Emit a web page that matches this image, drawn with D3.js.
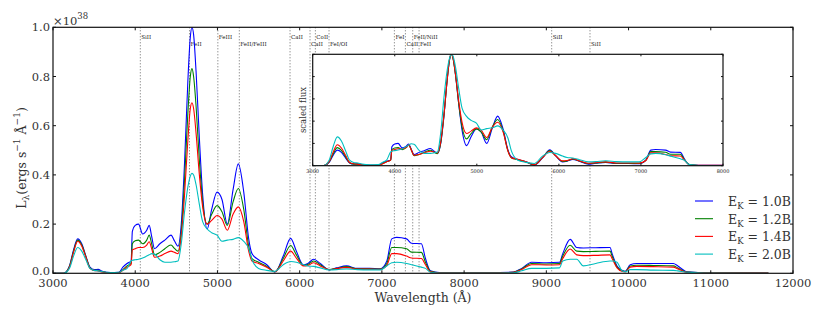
<!DOCTYPE html>
<html lang="en">
<head>
<meta charset="utf-8">
<title>Spectra</title>
<style>
  body { margin: 0; background: #fff; }
  svg text { font-family: "DejaVu Serif", serif; }
  .spine { fill: none; stroke: #111; stroke-width: 1.2px; }
  .tick line { stroke: #111; stroke-width: 1px; }
  .tick-label { font-size: 11.5px; fill: #333; }
  .axis-label { font-size: 12.5px; fill: #333; }
  .ion-line { stroke: #444; stroke-width: 0.8px; stroke-dasharray: 1,2; }
  .ion-label { font-size: 5.5px; fill: #222; }
  .inset-label { font-size: 5px; fill: #222; text-anchor: middle; }
  .spec { fill: none; stroke-width: 1.1px; }
</style>
</head>
<body>
<script src="https://d3js.org/d3.v7.min.js" charset="utf-8"></script>
<script>
// wavelength grid (Angstrom)
var wave = [3000,3130,3200,3250,3300,3350,3400,3450,3500,3550,3600,3700,3800,3850,3900,3950,3965,4000,4040,4090,
  4140,4170,4200,4235,4300,4360,4435,4480,4520,4560,4600,4640,4670,4690,4710,4740,4780,4820,4875,4930,
  4995,5055,5120,5190,5254,5320,5380,5420,5500,5600,5700,5800,5890,5960,6045,6100,6170,6250,6360,6450,
  6570,6700,6850,6980,7060,7120,7180,7300,7360,7480,7530,7590,7700,8000,8300,8600,8700,8820,9000,9160,
  9200,9290,9370,9450,9600,9775,9800,9860,9920,9960,10020,10100,10300,10545,10600,10710,11000,11700]

// luminosity in units of 1e38 erg/s/A
var ek10 = [0,0,0.03,0.095,0.14,0.12,0.07,0.025,0.015,0.016,0.008,0.003,0.004,0.025,0.04,0.05,0.17,0.195,0.2,0.16,
  0.175,0.195,0.15,0.1,0.12,0.135,0.155,0.13,0.11,0.2,0.45,0.78,0.96,1.0,0.97,0.82,0.55,0.32,0.18,0.26,
  0.33,0.3,0.2,0.34,0.445,0.33,0.14,0.08,0.055,0.035,0.005,0.07,0.142,0.09,0.034,0.04,0.057,0.04,0.014,0.022,
  0.03,0.02,0.02,0.018,0.05,0.14,0.146,0.14,0.122,0.12,0.06,0.01,0.003,0.003,0.003,0.005,0.02,0.045,0.043,0.045,
  0.08,0.138,0.105,0.103,0.104,0.105,0.08,0.03,0.012,0.008,0.035,0.04,0.04,0.04,0.03,0.006,0.002,0.001]
var ek12 = [0,0,0.028,0.09,0.135,0.115,0.068,0.022,0.012,0.012,0.006,0.002,0.003,0.015,0.03,0.04,0.12,0.132,0.135,0.12,
  0.135,0.155,0.12,0.075,0.085,0.1,0.115,0.1,0.09,0.17,0.38,0.65,0.8,0.832,0.8,0.68,0.46,0.29,0.2,0.24,
  0.275,0.25,0.195,0.29,0.345,0.26,0.11,0.06,0.045,0.028,0.006,0.06,0.113,0.075,0.032,0.036,0.05,0.035,0.015,0.02,
  0.027,0.018,0.018,0.017,0.04,0.105,0.105,0.1,0.086,0.085,0.045,0.008,0.002,0.002,0.002,0.004,0.018,0.04,0.038,0.04,
  0.07,0.114,0.09,0.088,0.089,0.09,0.07,0.025,0.01,0.007,0.03,0.033,0.032,0.03,0.022,0.005,0.002,0.001]
var ek14 = [0,0,0.025,0.085,0.13,0.11,0.065,0.02,0.012,0.01,0.005,0.002,0.003,0.012,0.025,0.035,0.095,0.1,0.105,0.105,
  0.115,0.128,0.1,0.065,0.07,0.08,0.09,0.085,0.08,0.15,0.32,0.54,0.67,0.693,0.67,0.57,0.4,0.27,0.2,0.215,
  0.235,0.22,0.175,0.24,0.27,0.21,0.09,0.05,0.04,0.025,0.006,0.05,0.09,0.062,0.03,0.032,0.043,0.03,0.015,0.019,
  0.024,0.017,0.017,0.016,0.032,0.08,0.08,0.07,0.062,0.06,0.035,0.006,0.002,0.002,0.002,0.004,0.015,0.035,0.034,0.035,
  0.06,0.099,0.075,0.072,0.073,0.075,0.06,0.022,0.008,0.006,0.025,0.028,0.027,0.025,0.018,0.004,0.002,0.001]
var ek20 = [0,0,0.02,0.07,0.105,0.09,0.055,0.02,0.012,0.01,0.006,0.003,0.004,0.012,0.02,0.05,0.053,0.055,0.057,0.062,
  0.07,0.075,0.08,0.078,0.055,0.045,0.045,0.047,0.05,0.12,0.25,0.35,0.395,0.406,0.4,0.36,0.28,0.21,0.18,0.165,
  0.155,0.13,0.135,0.138,0.145,0.13,0.1,0.055,0.02,0.012,0.008,0.035,0.048,0.045,0.035,0.03,0.028,0.022,0.014,0.015,
  0.018,0.015,0.014,0.014,0.03,0.043,0.045,0.04,0.035,0.025,0.02,0.004,0.001,0.001,0.001,0.002,0.01,0.02,0.02,0.022,
  0.05,0.057,0.057,0.03,0.04,0.05,0.05,0.045,0.01,0.006,0.015,0.015,0.013,0.012,0.01,0.004,0.001,0]

var seriesNames = ['1.0B', '1.2B', '1.4B', '2.0B']
var seriesColors = ['#0000ff', '#008000', '#ff0000', '#00bfbf']
var seriesValues = [ek10, ek12, ek14, ek20]

// line identifications: wavelength, ion, row
var ionWave = [4062, 4660, 5005, 5266, 5883, 6126, 6191, 6357, 7152, 7286, 7375, 7452, 9065, 9531]
var ionName = ['SiII','FeII','FeIII','FeII/FeIII','CaII','CaII','CoII','FeI/OI','FeI','CaII','FeII/NiII','FeII','SiII','SiII']
var ionRow  = [1,2,1,2,1,2,1,2,1,2,1,2,1,2]

var xTicks = [3000,4000,5000,6000,7000,8000,9000,10000,11000,12000]
var yTicks = [0, 0.2, 0.4, 0.6, 0.8, 1.0]
var insetXTicks = [3000,4000,5000,6000,7000,8000]
var insetYTicks = [0, 0.2, 0.4, 0.6, 0.8, 1.0]

var svg = d3.select('body').append('svg')
    .attr('width', 822)
    .attr('height', 320)

var x = d3.scaleLinear().domain([3000, 12000]).range([53, 793])
var y = d3.scaleLinear().domain([0, 1]).range([273.3, 27.3])

svg.append('clipPath').attr('id', 'mainclip')
  .append('rect').attr('x', 53).attr('y', 27.3).attr('width', 740).attr('height', 246)

// ion marker lines
svg.append('g').selectAll('line')
    .data(ionWave)
  .enter().append('line')
    .attr('class', 'ion-line')
    .attr('x1', function(d) { return x(d) }).attr('x2', function(d) { return x(d) })
    .attr('y1', y(1)).attr('y2', y(0))

svg.append('g').selectAll('text')
    .data(ionWave)
  .enter().append('text')
    .attr('class', 'ion-label')
    .attr('x', function(d) { return x(d) + 1 })
    .attr('y', function(d, i) { return ionRow[i] === 1 ? 39 : 46 })
    .text(function(d, i) { return ionName[i] })

// spectra
var line = d3.line()
    .x(function(d) { return x(d[0]) })
    .y(function(d) { return y(d[1]) })
    .curve(d3.curveMonotoneX)

var specGroup = svg.append('g').attr('clip-path', 'url(#mainclip)')
seriesValues.forEach(function(vals, k) {
  specGroup.append('path')
    .attr('class', 'spec')
    .attr('stroke', seriesColors[k])
    .attr('d', line(wave.map(function(w, i) { return [w, vals[i]] })))
})

// main frame and ticks
svg.append('rect').attr('class', 'spine')
    .attr('x', 53).attr('y', 27.3).attr('width', 740).attr('height', 246)

var xt = svg.append('g').attr('class', 'tick')
xt.selectAll('line.b').data(xTicks).enter().append('line')
    .attr('x1', function(d) { return x(d) }).attr('x2', function(d) { return x(d) })
    .attr('y1', y(0)).attr('y2', y(0) - 3)
xt.selectAll('line.t').data(xTicks).enter().append('line')
    .attr('x1', function(d) { return x(d) }).attr('x2', function(d) { return x(d) })
    .attr('y1', y(1)).attr('y2', y(1) + 3)
xt.selectAll('line.l').data(yTicks).enter().append('line')
    .attr('x1', 53).attr('x2', 56)
    .attr('y1', function(d) { return y(d) }).attr('y2', function(d) { return y(d) })
xt.selectAll('line.r').data(yTicks).enter().append('line')
    .attr('x1', 793).attr('x2', 790)
    .attr('y1', function(d) { return y(d) }).attr('y2', function(d) { return y(d) })

svg.append('g').selectAll('text').data(xTicks).enter().append('text')
    .attr('class', 'tick-label')
    .attr('text-anchor', 'middle')
    .attr('x', function(d) { return x(d) })
    .attr('y', 287)
    .text(function(d) { return d })

svg.append('g').selectAll('text').data(yTicks).enter().append('text')
    .attr('class', 'tick-label')
    .attr('text-anchor', 'end')
    .attr('x', 50)
    .attr('y', function(d) { return y(d) + (d === 0 ? 1.5 : 4) })
    .text(function(d) { return d.toFixed(1) })

var mult = svg.append('text').attr('class', 'tick-label').attr('x', 53).attr('y', 25)
mult.append('tspan').text('\u00d710')
mult.append('tspan').attr('dy', -6).attr('font-size', '8.5px').text('38')

svg.append('text').attr('class', 'axis-label')
    .attr('text-anchor', 'middle')
    .attr('x', 423).attr('y', 302)
    .text('Wavelength (\u00c5)')

var yl = svg.append('text').attr('class', 'axis-label')
    .attr('text-anchor', 'middle')
    .attr('transform', 'translate(26,158) rotate(-90)')
yl.append('tspan').text('L')
yl.append('tspan').attr('dy', 3).attr('font-size', '9px').text('\u03bb')
yl.append('tspan').attr('dy', -3).text('(ergs s')
yl.append('tspan').attr('dy', -6).attr('font-size', '9px').text('\u22121')
yl.append('tspan').attr('dy', 6).text(' \u00c5')
yl.append('tspan').attr('dy', -6).attr('font-size', '9px').text('\u22121')
yl.append('tspan').attr('dy', 6).text(')')

// legend
var legend = svg.append('g')
seriesNames.forEach(function(name, k) {
  var ly = 201 + k * 17.7
  legend.append('line')
    .attr('x1', 695).attr('x2', 713).attr('y1', ly).attr('y2', ly)
    .attr('stroke', seriesColors[k]).attr('stroke-width', 1.1)
  var t = legend.append('text').attr('class', 'axis-label').attr('x', 728).attr('y', ly + 5)
  t.append('tspan').text('E')
  t.append('tspan').attr('dy', 3).attr('font-size', '8.5px').text('K')
  t.append('tspan').attr('dy', -3).text(' = ' + name)
})

// inset
var ix = d3.scaleLinear().domain([3000, 8000]).range([312.7, 723])
var iy = d3.scaleLinear().domain([0, 1]).range([165.7, 54.3])

svg.append('rect').attr('x', 312.7).attr('y', 54.3).attr('width', 410.3).attr('height', 111.4)
    .attr('fill', '#fff')

svg.append('clipPath').attr('id', 'insetclip')
  .append('rect').attr('x', 312.7).attr('y', 54.3).attr('width', 410.3).attr('height', 111.4)

var iline = d3.line()
    .x(function(d) { return ix(d[0]) })
    .y(function(d) { return iy(d[1]) })
    .curve(d3.curveMonotoneX)

var insetGroup = svg.append('g').attr('clip-path', 'url(#insetclip)')
seriesValues.forEach(function(vals, k) {
  var peak = d3.max(vals)
  var pts = []
  wave.forEach(function(w, i) { if (w <= 8300) pts.push([w, vals[i] / peak]) })
  insetGroup.append('path')
    .attr('class', 'spec')
    .attr('stroke', seriesColors[k])
    .attr('d', iline(pts))
})

svg.append('rect').attr('class', 'spine')
    .attr('x', 312.7).attr('y', 54.3).attr('width', 410.3).attr('height', 111.4)

var it = svg.append('g').attr('class', 'tick')
it.selectAll('line.b').data(insetXTicks).enter().append('line')
    .attr('x1', function(d) { return ix(d) }).attr('x2', function(d) { return ix(d) })
    .attr('y1', iy(0)).attr('y2', iy(0) - 2)
it.selectAll('line.t').data(insetXTicks).enter().append('line')
    .attr('x1', function(d) { return ix(d) }).attr('x2', function(d) { return ix(d) })
    .attr('y1', iy(1)).attr('y2', iy(1) + 2)
it.selectAll('line.l').data(insetYTicks).enter().append('line')
    .attr('x1', 312.7).attr('x2', 314.7)
    .attr('y1', function(d) { return iy(d) }).attr('y2', function(d) { return iy(d) })
it.selectAll('line.r').data(insetYTicks).enter().append('line')
    .attr('x1', 723).attr('x2', 721)
    .attr('y1', function(d) { return iy(d) }).attr('y2', function(d) { return iy(d) })

svg.append('g').selectAll('text').data(insetXTicks).enter().append('text')
    .attr('class', 'inset-label')
    .attr('x', function(d) { return ix(d) })
    .attr('y', 173)
    .text(function(d) { return d })

svg.append('text')
    .attr('font-size', '8.5px').attr('fill', '#333')
    .attr('text-anchor', 'middle')
    .attr('transform', 'translate(306,110) rotate(-90)')
    .text('scaled flux')
</script>
</body>
</html>
